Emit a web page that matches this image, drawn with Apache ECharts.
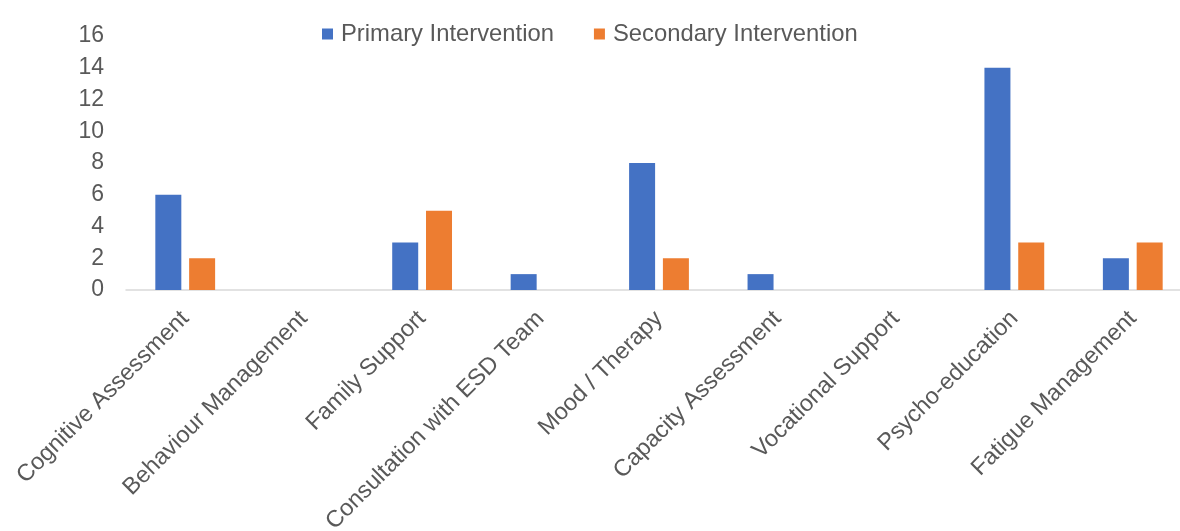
<!DOCTYPE html>
<html>
<head>
<meta charset="utf-8">
<script src="https://cdn.jsdelivr.net/npm/echarts@6/dist/echarts.min.js"></script>
<style>
  html, body { margin: 0; padding: 0; background: #fff; }
  #chart { width: 1180px; height: 531px; }
</style>
</head>
<body>
<div id="chart"></div>
<script>
var categories = ["Cognitive Assessment", "Behaviour Management", "Family Support", "Consultation with ESD Team", "Mood / Therapy", "Capacity Assessment", "Vocational Support", "Psycho-education", "Fatigue Management"];
var primaryValues = [6, 0, 3, 1, 8, 1, 0, 14, 2];
var secondaryValues = [2, 0, 5, 0, 2, 0, 0, 3, 3];

var myChart = echarts.init(document.getElementById("chart"));
var font = "'Liberation Sans', Arial, sans-serif";
myChart.setOption({
  animation: false,
  textStyle: { fontFamily: font },
  legend: {
    top: 17,
    left: 317,
    itemGap: 40,
    itemWidth: 11,
    itemHeight: 11,
    icon: "rect",
    textStyle: { fontSize: 23.8, color: "#595959", fontFamily: font, padding: [0, 0, 0, 3] }
  },
  // plot area runs past the right edge (the picture is cropped there)
  grid: { left: 126, right: -12, top: 36, bottom: 241, containLabel: false, outerBoundsMode: "none" },
  xAxis: {
    type: "category",
    data: categories,
    axisLine: { lineStyle: { color: "#d9d9d9", width: 1.5 } },
    axisTick: { show: false },
    axisLabel: {
      interval: 0,
      rotate: 45,
      margin: 25,
      fontSize: 23.5,
      color: "#595959",
      fontFamily: font
    }
  },
  yAxis: {
    type: "value",
    min: 0,
    max: 16,
    interval: 2,
    splitLine: { show: false },
    axisLine: { show: false },
    axisTick: { show: false },
    axisLabel: { fontSize: 23, color: "#595959", margin: 22, padding: [4, 0, 0, 0], fontFamily: font }
  },
  series: [
    {
      name: "Primary Intervention",
      type: "bar",
      data: primaryValues,
      barWidth: 26,
      barGap: "30%",
      itemStyle: { color: "#4472C4" }
    },
    {
      name: "Secondary Intervention",
      type: "bar",
      data: secondaryValues,
      barWidth: 26,
      itemStyle: { color: "#ED7D31" }
    }
  ]
});
</script>
</body>
</html>
